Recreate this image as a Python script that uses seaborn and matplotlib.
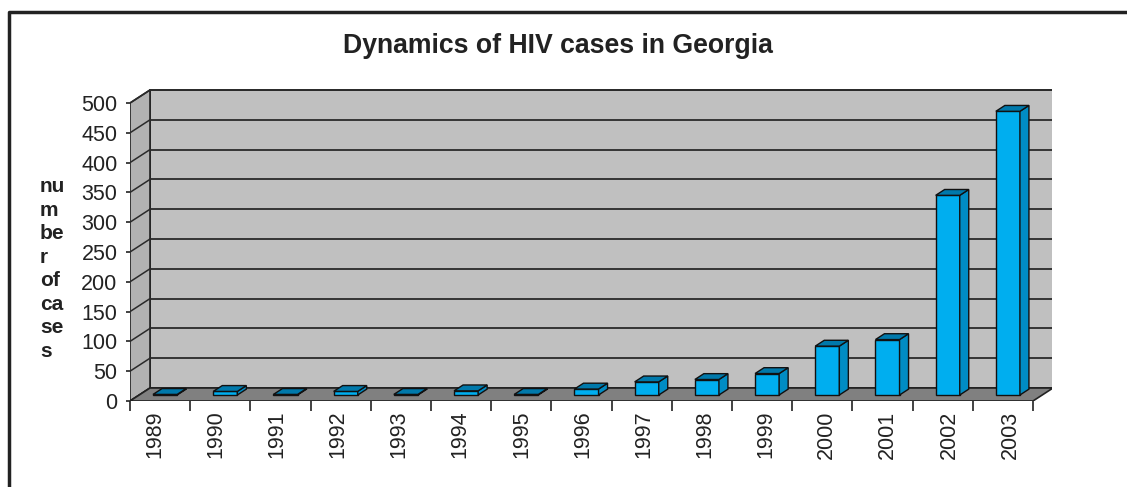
import matplotlib
matplotlib.use("Agg")
import matplotlib.pyplot as plt
from matplotlib.patches import Polygon
from matplotlib.lines import Line2D
import seaborn as sns
import pandas as pd

years = ["1989", "1990", "1991", "1992", "1993", "1994", "1995", "1996",
         "1997", "1998", "1999", "2000", "2001", "2002", "2003"]
cases = [1, 6, 1, 6, 1, 7, 1, 10, 22, 26, 36, 82, 93, 335, 476]
y_ticks = [0, 50, 100, 150, 200, 250, 300, 350, 400, 450, 500]

sns.set_theme(style="white")
plt.rcParams["font.family"] = ["Liberation Sans", "DejaVu Sans"]

W, H = 1127, 487
fig = plt.figure(figsize=(W / 100, H / 100), dpi=100)
# axes box in pixels: left 130, right 1052, bottom 401, top 85
ax = fig.add_axes([130 / W, (H - 401) / H, 922 / W, 316 / H])

PX_X = 60.2   # pixels per category
PX_Y = 0.596  # pixels per case
DX = 20 / PX_X   # depth offset of the back wall
DY = 13 / PX_Y
BX = 5 / PX_X    # bar front offset from the floor front edge
BY = 6 / PX_Y
G = 0.45         # bar depth as share of floor depth

front = "#00AEEF"
side = "#008CC4"
top = "#0079AB"

df = pd.DataFrame({"year": years, "cases": cases})
sns.barplot(data=df, x="year", y="cases", ax=ax, width=0.4, color=front,
            saturation=1, edgecolor="#111111", linewidth=1.0, zorder=5)
bars = list(ax.patches)

n = len(years)
x_left, x_right = -0.5, n - 0.5
ymax = y_ticks[-1]

# walls and floor
ax.add_patch(Polygon([(x_left + DX, DY), (x_right + DX, DY), (x_right + DX, ymax + DY),
                      (x_left + DX, ymax + DY)], closed=True, fc="#C0C0C0",
                     ec="#222222", lw=1.2, zorder=1))
ax.add_patch(Polygon([(x_left, 0), (x_left + DX, DY), (x_left + DX, ymax + DY),
                      (x_left, ymax)], closed=True, fc="#B2B2B2",
                     ec="#222222", lw=1.2, zorder=1))
for v in y_ticks:
    ax.plot([x_left + DX, x_right + DX], [v + DY, v + DY], color="#2a2a2a", lw=1.3, zorder=2)
    ax.plot([x_left, x_left + DX], [v, v + DY], color="#2a2a2a", lw=1.1, zorder=2)
ax.add_patch(Polygon([(x_left, 0), (x_right, 0), (x_right + DX, DY), (x_left + DX, DY)],
                     closed=True, fc="#808080", ec="#222222", lw=1.2, zorder=3))

# make the bars look 3d
for p in bars:
    x0 = p.get_x() + BX
    w = p.get_width()
    h = p.get_height()
    b = BY
    p.set_x(x0)
    p.set_y(b)
    x1 = x0 + w
    ax.add_patch(Polygon([(x1, b), (x1 + G * DX, b + G * DY), (x1 + G * DX, b + h + G * DY),
                          (x1, b + h)], closed=True, fc=side, ec="#111111", lw=1.0, zorder=5))
    ax.add_patch(Polygon([(x0, b + h), (x1, b + h), (x1 + G * DX, b + h + G * DY),
                          (x0 + G * DX, b + h + G * DY)], closed=True, fc=top,
                         ec="#111111", lw=1.0, zorder=5))

ax.set_xlim(x_left, x_left + 922 / PX_X)
ax.set_ylim(0, 316 / PX_Y)
ax.set_facecolor("none")
for s in ax.spines.values():
    s.set_visible(False)

ax.set_yticks(y_ticks)
ax.set_yticklabels([str(v) for v in y_ticks], fontsize=15.5, color="#222222")
ax.tick_params(axis="y", left=True, length=3, width=1.2, pad=6, color="#222222")

# label positions
ax.set_xticks([-0.085 + 1.0145 * i for i in range(n)])
ax.set_xticklabels(years, rotation=90, fontsize=15.5, color="#222222", va="top")
ax.set_xticks([i - 0.5 for i in range(n + 1)], minor=True)
ax.tick_params(axis="x", which="major", bottom=True, length=0, pad=7)
ax.tick_params(axis="x", which="minor", bottom=True, length=7, width=1.2, color="#222222")
ax.set_xlabel("")
ax.set_ylabel("")

fig.text(0.495, 1 - 46 / H, "Dynamics of HIV cases in Georgia", ha="center", va="center",
         fontsize=19.2, fontweight="bold", color="#222222")
fig.text(40 / W, 1 - 269 / H, "nu\nm\nbe\nr\nof\nca\nse\ns", ha="left", va="center",
         fontsize=15, fontweight="bold", linespacing=1.3, color="#222222")

# outer frame
fig.add_artist(Line2D([9 / W, 9 / W, 1.0], [0.0, 1 - 12 / H, 1 - 12 / H],
                      transform=fig.transFigure, color="#222222", lw=2.5))

fig.savefig("out.png", dpi=100, facecolor="white")
